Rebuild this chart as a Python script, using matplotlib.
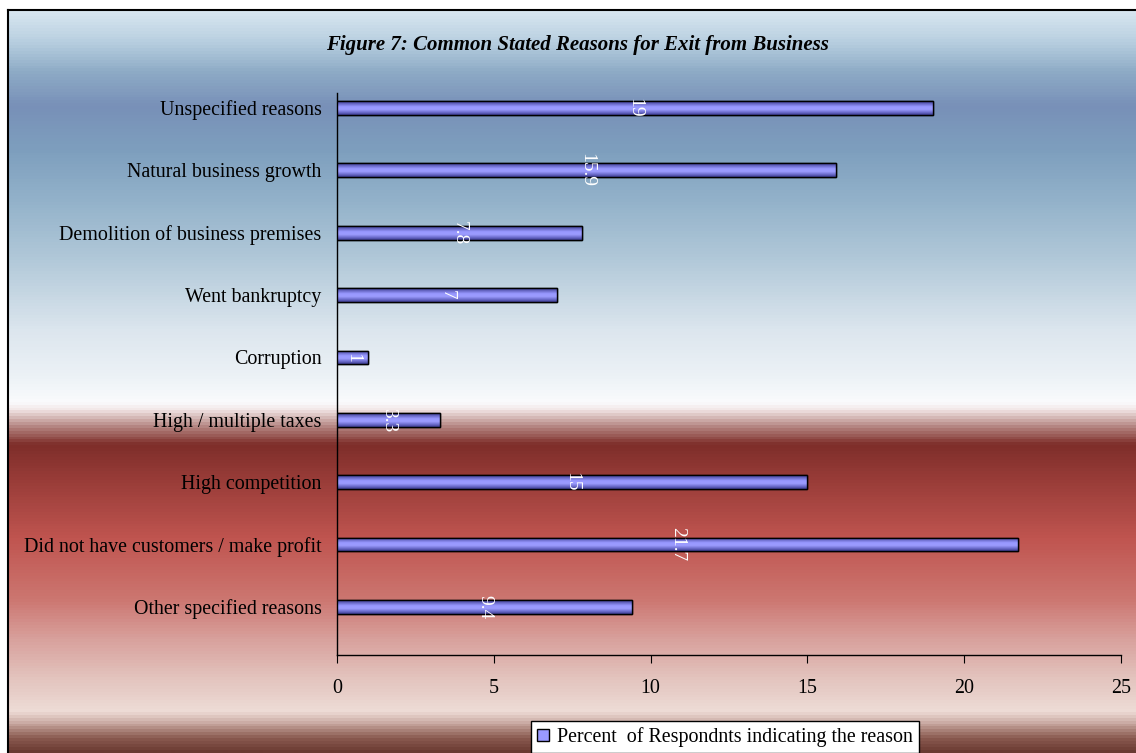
import numpy as np
import matplotlib.pyplot as plt
from matplotlib.colors import LinearSegmentedColormap

reasons = [
    "Other specified reasons",
    "Did not have customers / make profit",
    "High competition",
    "High / multiple taxes",
    "Corruption",
    "Went bankruptcy",
    "Demolition of business premises",
    "Natural business growth",
    "Unspecified reasons",
]
percent = [9.4, 21.7, 15, 3.3, 1, 7, 7.8, 15.9, 19]
value_labels = ["9.4", "21.7", "15", "3.3", "1", "7", "7.8", "15.9", "19"]

title = "Figure 7: Common Stated Reasons for Exit from Business"
legend_label = "Percent  of Respondnts indicating the reason"

W, H = 1136, 753
fig = plt.figure(figsize=(W / 100, H / 100), dpi=100)
fig.patch.set_facecolor("white")

# background band: blue sky on top, brick red underneath (pixel rows)
stops = [
    (10, "#d8e6f0"), (40, "#b8cfe0"), (70, "#8eabc6"), (105, "#7890b8"),
    (150, "#7e9fbe"), (200, "#93b2ca"), (260, "#b2c9d9"), (330, "#dce6ee"),
    (380, "#eef3f7"), (402, "#fafbfd"), (410, "#f2e6e6"), (428, "#b07e7a"),
    (445, "#7e2e2a"), (480, "#983c38"), (540, "#c05550"), (600, "#cc7670"),
    (640, "#d8a09c"), (680, "#e3c4be"), (713, "#eedcd6"), (725, "#c8a8a0"),
    (740, "#8a5a50"), (753, "#6a3a32"),
]
pos = [(y - 10) / (753 - 10) for y, _ in stops]
cmap = LinearSegmentedColormap.from_list("bg", list(zip(pos, [c for _, c in stops])))

bg = fig.add_axes([0, 0, 1, 1], zorder=-1)
bg.set_xlim(0, W)
bg.set_ylim(H, 0)
bg.axis("off")
grad = np.linspace(0, 1, 743).reshape(-1, 1)
bg.imshow(grad, cmap=cmap, aspect="auto", extent=(8, W, H, 10), interpolation="bilinear")
bg.plot([8, W], [10, 10], color="black", lw=1.5)
bg.plot([8, 8], [10, H], color="black", lw=1.5)

ax = fig.add_axes([337 / W, 1 - 655 / H, 784 / W, 562 / H])
ax.set_facecolor("none")

y = np.arange(len(reasons))
bars = ax.barh(y, percent, height=0.22, color="#9999ff", edgecolor="black", linewidth=1.0, zorder=3)

# shaded fill for each bar, dark at the rims and light in the middle
shade = LinearSegmentedColormap.from_list(
    "bar", ["#3c3c90", "#7070d0", "#9c9cff", "#9898ff", "#6a6ac8", "#3c3c90"])
col = np.linspace(0, 1, 64).reshape(-1, 1)
for b in bars:
    x0, y0 = b.get_x(), b.get_y()
    im = ax.imshow(col, cmap=shade, aspect="auto", interpolation="bilinear",
                   extent=(x0, x0 + b.get_width(), y0, y0 + b.get_height()),
                   origin="lower", zorder=3.5)
    im.set_clip_path(b)
    edge = plt.Rectangle((x0, y0), b.get_width(), b.get_height(), fill=False,
                         edgecolor="black", linewidth=1.0, zorder=4)
    ax.add_patch(edge)

for yi, v, lab in zip(y, percent, value_labels):
    ax.text(v / 2, yi, lab, rotation=270, color="white", ha="center", va="center",
            fontsize=14, family="Liberation Serif", zorder=5)

ax.set_xlim(0, 25)
ax.set_ylim(-0.77, len(reasons) - 0.76)
ax.set_xticks(range(0, 26, 5))
ax.set_yticks(y)
ax.set_yticklabels(reasons)
for sp in ["top", "right"]:
    ax.spines[sp].set_visible(False)
ax.spines["left"].set_linewidth(1.0)
ax.spines["bottom"].set_linewidth(1.0)
ax.tick_params(axis="y", length=0, pad=11)
ax.tick_params(axis="x", length=6, direction="out", pad=11)
for lab in ax.get_xticklabels() + ax.get_yticklabels():
    lab.set_family("Liberation Serif")
    lab.set_fontsize(14.4)
    lab.set_color("black")

fig.text(577 / W, 1 - 45 / H, title, ha="center", va="center", fontsize=15,
         family="Liberation Serif", style="italic", weight="bold")

handle = plt.Rectangle((0, 0), 1, 1, facecolor="#9999ff", edgecolor="black", linewidth=1.0)
leg = fig.legend([handle], [legend_label], loc="center", bbox_to_anchor=(725 / W, 1 - 737 / H),
                 frameon=True, fancybox=False, handlelength=0.6, handleheight=0.6,
                 handletextpad=0.4, borderpad=0.3,
                 prop={"family": "Liberation Serif", "size": 14.4})
leg.get_frame().set_edgecolor("black")
leg.get_frame().set_facecolor("white")
leg.get_frame().set_linewidth(1.0)
leg.get_frame().set_alpha(1)

fig.savefig("out.png", dpi=100)
